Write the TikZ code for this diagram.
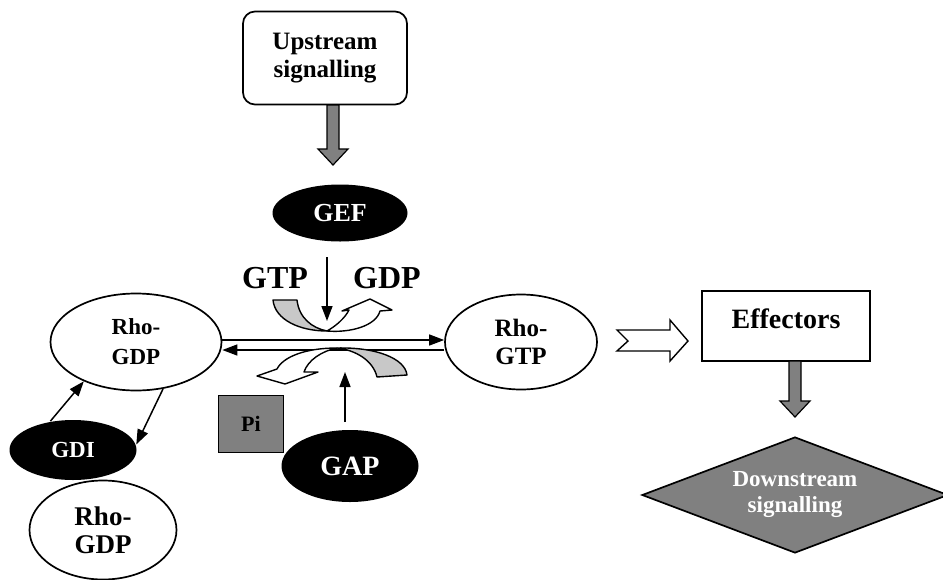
\documentclass[tikz,border=0pt]{standalone}
\usepackage{fontspec}
\setmainfont{Liberation Serif}
\usetikzlibrary{arrows.meta,shapes.geometric}
\definecolor{midgray}{HTML}{808080}
\definecolor{hornfill}{HTML}{C8C8C8}
% grey block arrow pointing down: x, top y, tip y
\newcommand{\blockdown}[3]{%
  \draw[blockarr] (#1-6,#2) -- (#1-6,#3-16) -- (#1-15,#3-16) -- (#1,#3)
    -- (#1+15,#3-16) -- (#1+6,#3-16) -- (#1+6,#2) -- cycle;}

\begin{document}
\begin{tikzpicture}[
        x=1pt, y=-1pt, line width=1.7pt,
        oval/.style={ellipse, draw, fill=white, inner sep=0pt, align=center},
        blackoval/.style={ellipse, fill=black, text=white, inner sep=0pt},
        arr/.style={-{Triangle[length=15pt,width=11pt]}, line width=1.5pt},
        blockarr/.style={draw=black, fill=midgray, line width=1.2pt},
        horn/.style={draw=black, line width=1.4pt, line join=round}
      ]
        \useasboundingbox (0,0) rectangle (943,579);

        \node[draw, rounded corners=12pt, minimum width=164pt, minimum height=93pt,
              align=center, font=\fontsize{25}{28}\selectfont\bfseries] (up) at (325,58) {Upstream\\signalling};
        \node[blackoval, minimum width=135pt, minimum height=57pt,
              font=\fontsize{26}{30}\selectfont\bfseries] (gef) at (340,213) {GEF};
        \node[anchor=base, font=\fontsize{32}{36}\selectfont\bfseries] (gtp) at (275,288) {GTP};
        \node[anchor=base, font=\fontsize{32}{36}\selectfont\bfseries] (gdp) at (387,288) {GDP};

        \node[oval, minimum width=171pt, minimum height=97pt,
              font=\fontsize{23}{30}\selectfont\bfseries] (rhogdp) at (136,342) {Rho-\\GDP};
        \node[oval, minimum width=152pt, minimum height=95pt,
              font=\fontsize{25}{28}\selectfont\bfseries] (rhogtp) at (521,342) {Rho-\\GTP};
        \node[blackoval, minimum width=127pt, minimum height=60pt,
              font=\fontsize{23}{26}\selectfont\bfseries] (gdi) at (73,450) {GDI};
        \node[oval, minimum width=147pt, minimum height=99pt,
              font=\fontsize{27}{28}\selectfont\bfseries] (rhogdpfree) at (103,530) {Rho-\\GDP};
        \node[draw, fill=midgray, minimum width=65pt, minimum height=57pt,
              font=\fontsize{22}{24}\selectfont\bfseries] (pi) at (251,424) {Pi};
        \node[blackoval, minimum width=137pt, minimum height=72pt,
              font=\fontsize{28}{30}\selectfont\bfseries] (gap) at (350,466) {GAP};
        \node[draw, minimum width=168pt, minimum height=70pt, inner sep=0pt,
              text height=19pt, text depth=15pt,
              font=\fontsize{28}{30}\selectfont\bfseries] (eff) at (786,326) {Effectors};
        \node[diamond, draw, fill=midgray, text=white, aspect=2.6, inner sep=0pt,
              minimum width=306pt, minimum height=116pt, align=center,
              font=\fontsize{23}{26}\selectfont\bfseries] (down) at (795,495) {Downstream\\signalling};

        % exchange arrows
        \draw[arr] ([yshift=2pt]rhogdp.east) -- ([yshift=2pt]rhogtp.west);
        \draw[arr] ([yshift=-8pt]rhogtp.west) -- ([yshift=-8pt]rhogdp.east);

        \coordinate (gefa) at (327,257); \coordinate (gefb) at (327,321);
        \draw[arr] (gefa) -- (gefb);
        \coordinate (gapa) at (345,422); \coordinate (gapb) at (345,372);
        \draw[arr] (gapa) -- (gapb);

        \draw[arr] (gdi.128) -- (rhogdp.217);
        \draw[arr] (rhogdp.-60) -- (gdi.5);

        % GTP in, GDP out
        \filldraw[horn, fill=hornfill] (327,331) .. controls (300,331) and (275,320) .. (273,300)
          -- (297,300) .. controls (299,318) and (312,328) .. (327,331) -- cycle;
        \filldraw[horn, fill=white] (327,331) .. controls (336,326) and (345,318) .. (349,310)
          -- (342,311) -- (370,299) -- (392,310) -- (380,311)
          .. controls (376,326) and (350,333) .. (327,331) -- cycle;
        % GTP hydrolysis
        \filldraw[horn, fill=hornfill] (337,348) .. controls (375,347) and (405,358) .. (407,375)
          -- (377,377) .. controls (373,360) and (355,350) .. (337,348) -- cycle;
        \filldraw[horn, fill=white] (337,348) .. controls (305,348) and (283,357) .. (277,369)
          -- (257,376) -- (285,384) -- (318,372) -- (304,372)
          .. controls (308,360) and (322,351) .. (337,348) -- cycle;

        % to effectors
        \draw[line width=1.4pt, fill=white, line join=miter] (617,330) -- (670,330) -- (670,320)
          -- (688,341) -- (670,361) -- (670,351) -- (617,351) -- (628,341) -- cycle;

        \blockdown{333}{105}{165}
        \blockdown{795}{361}{417}
      \end{tikzpicture}
\end{document}
